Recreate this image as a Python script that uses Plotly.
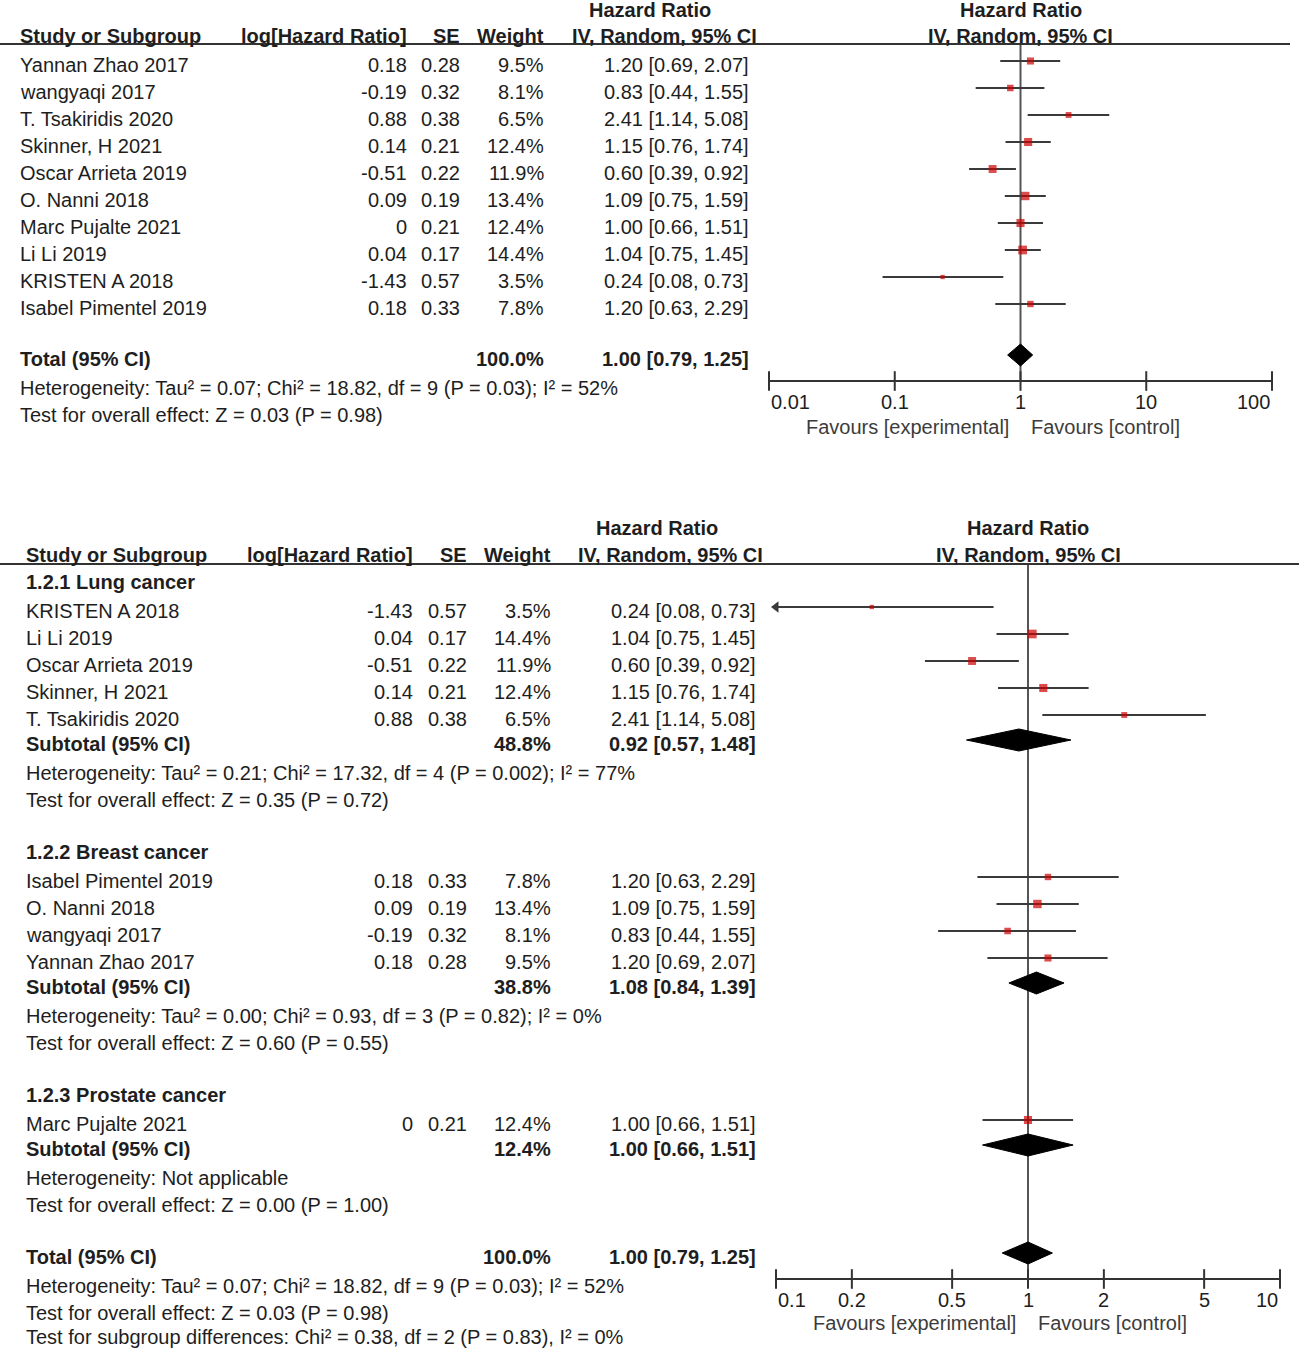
import math
import plotly.graph_objects as go

W, H = 1299, 1348

# ---------------- data ----------------
studies = ["Yannan Zhao 2017", "wangyaqi 2017", "T. Tsakiridis 2020", "Skinner, H 2021",
           "Oscar Arrieta 2019", "O. Nanni 2018", "Marc Pujalte 2021", "Li Li 2019",
           "KRISTEN A 2018", "Isabel Pimentel 2019"]
log_hr = [0.18, -0.19, 0.88, 0.14, -0.51, 0.09, 0, 0.04, -1.43, 0.18]
se = [0.28, 0.32, 0.38, 0.21, 0.22, 0.19, 0.21, 0.17, 0.57, 0.33]
weight = [9.5, 8.1, 6.5, 12.4, 11.9, 13.4, 12.4, 14.4, 3.5, 7.8]
hr = [1.20, 0.83, 2.41, 1.15, 0.60, 1.09, 1.00, 1.04, 0.24, 1.20]
ci_lo = [0.69, 0.44, 1.14, 0.76, 0.39, 0.75, 0.66, 0.75, 0.08, 0.63]
ci_hi = [2.07, 1.55, 5.08, 1.74, 0.92, 1.59, 1.51, 1.45, 0.73, 2.29]

total_weight = 100.0
total_hr, total_lo, total_hi = 1.00, 0.79, 1.25
total_het = "Heterogeneity: Tau² = 0.07; Chi² = 18.82, df = 9 (P = 0.03); I² = 52%"
total_test = "Test for overall effect: Z = 0.03 (P = 0.98)"
subgroup_test = "Test for subgroup differences: Chi² = 0.38, df = 2 (P = 0.83), I² = 0%"

group_names = ["1.2.1 Lung cancer", "1.2.2 Breast cancer", "1.2.3 Prostate cancer"]
group_members = [
    ["KRISTEN A 2018", "Li Li 2019", "Oscar Arrieta 2019", "Skinner, H 2021", "T. Tsakiridis 2020"],
    ["Isabel Pimentel 2019", "O. Nanni 2018", "wangyaqi 2017", "Yannan Zhao 2017"],
    ["Marc Pujalte 2021"],
]
group_weight = [48.8, 38.8, 12.4]
group_hr = [0.92, 1.08, 1.00]
group_lo = [0.57, 0.84, 0.66]
group_hi = [1.48, 1.39, 1.51]
group_het = [
    "Heterogeneity: Tau² = 0.21; Chi² = 17.32, df = 4 (P = 0.002); I² = 77%",
    "Heterogeneity: Tau² = 0.00; Chi² = 0.93, df = 3 (P = 0.82); I² = 0%",
    "Heterogeneity: Not applicable",
]
group_test = [
    "Test for overall effect: Z = 0.35 (P = 0.72)",
    "Test for overall effect: Z = 0.60 (P = 0.55)",
    "Test for overall effect: Z = 0.00 (P = 1.00)",
]

top_ticks = [0.01, 0.1, 1, 10, 100]
bot_ticks = [0.1, 0.2, 0.5, 1, 2, 5, 10]

# ---------------- style / layout constants ----------------
FONT = "Liberation Sans, Arial, sans-serif"
FS = 20
TXT = "#1e1e1e"
LINE = "#3a3a3a"
RED = "#cc0000"
MARK_DY = -4      # marks sit slightly above text centre
DIA_H = 11

fig = go.Figure()
annotations = []


def ann(text, x, y, anchor="left", bold=False, xref="paper", color=TXT, xshift=0):
    if bold:
        text = "<b>" + text + "</b>"
    annotations.append(dict(
        text=text, x=(x / W if xref == "paper" else x), y=y, xref=xref, yref="y",
        xanchor=anchor, yanchor="middle", showarrow=False, xshift=xshift,
        font=dict(family=FONT, size=FS, color=color)))


def fmt_ci(h, lo, hi):
    return f"{h:.2f} [{lo:.2f}, {hi:.2f}]"


def panel(cfg, rows, axis, xmin, xmax, ticks):
    cx = cfg
    ci_x, ci_y = [], []
    sq_x, sq_y, sq_s = [], [], []
    ar_x, ar_y = [], []
    dia_x, dia_y = [], []
    for r in rows:
        y = r["y"]
        if r["kind"] == "study":
            i = r["i"]
            ann(studies[i], cx["name"], y)
            ann(f"{log_hr[i]:g}", cx["loghr"], y, "right")
            ann(f"{se[i]:.2f}", cx["se"], y, "right")
            ann(f"{weight[i]:.1f}%", cx["wt"], y, "right")
            ann(fmt_ci(hr[i], ci_lo[i], ci_hi[i]), cx["ci"], y, "right")
            lo = max(ci_lo[i], xmin)
            hi = min(ci_hi[i], xmax)
            ci_x += [lo, hi, None]
            ci_y += [y + MARK_DY, y + MARK_DY, None]
            sq_x.append(hr[i]); sq_y.append(y + MARK_DY); sq_s.append(2.3 * math.sqrt(weight[i]))
            if ci_lo[i] < xmin:
                ar_x.append(xmin); ar_y.append(y + MARK_DY)
        elif r["kind"] == "pooled":
            ann(r["label"], cx["name"], y, bold=True)
            ann(f"{r['w']:.1f}%", cx["wt"], y, "right", bold=True)
            ann(fmt_ci(r["hr"], r["lo"], r["hi"]), cx["ci"], y, "right", bold=True)
            yc = y + MARK_DY
            dia_x += [r["lo"], r["hr"], r["hi"], r["hr"], r["lo"], None]
            dia_y += [yc, yc - DIA_H, yc, yc + DIA_H, yc, None]
        elif r["kind"] == "text":
            ann(r["label"], cx["name"], y, bold=r.get("bold", False))
    # null line
    fig.add_trace(go.Scatter(x=[1, 1], y=[cfg["rule"], cfg["axis"]], xaxis=axis, yaxis="y",
                             mode="lines", line=dict(color="#555555", width=2),
                             hoverinfo="skip", showlegend=False))
    fig.add_trace(go.Scatter(x=ci_x, y=ci_y, xaxis=axis, yaxis="y", mode="lines",
                             line=dict(color=LINE, width=2), hoverinfo="skip", showlegend=False))
    if ar_x:
        fig.add_trace(go.Scatter(x=ar_x, y=ar_y, xaxis=axis, yaxis="y", mode="markers",
                                 marker=dict(symbol="triangle-left", size=10, color=LINE),
                                 cliponaxis=False, hoverinfo="skip", showlegend=False))
    fig.add_trace(go.Scatter(x=sq_x, y=sq_y, xaxis=axis, yaxis="y", mode="markers",
                             marker=dict(symbol="square", size=sq_s, color=RED, line=dict(width=0)),
                             cliponaxis=False, hoverinfo="skip", showlegend=False))
    fig.add_trace(go.Scatter(x=dia_x, y=dia_y, xaxis=axis, yaxis="y", mode="lines",
                             fill="toself", fillcolor="black", line=dict(color="black", width=1),
                             hoverinfo="skip", showlegend=False))
    # tick marks crossing the axis line
    fig.add_trace(go.Scatter(x=ticks, y=[cfg["axis"]] * len(ticks), xaxis=axis, yaxis="y",
                             mode="markers", cliponaxis=False,
                             marker=dict(symbol="line-ns", size=14,
                                         line=dict(color="#333333", width=2)),
                             hoverinfo="skip", showlegend=False))
    # headers
    ann("Study or Subgroup", cx["name"], cfg["h2"], bold=True)
    ann("log[Hazard Ratio]", cx["loghr"], cfg["h2"], "right", bold=True)
    ann("SE", cx["se"], cfg["h2"], "right", bold=True)
    ann("Weight", cx["wt"], cfg["h2"], "right", bold=True)
    ann("Hazard Ratio", cx["hr_head"], cfg["h1"], "center", bold=True)
    ann("IV, Random, 95% CI", cx["ci_head"], cfg["h2"], "center", bold=True)
    ann("Hazard Ratio", 0, cfg["h1"], "center", bold=True, xref=axis)
    ann("IV, Random, 95% CI", 0, cfg["h2"], "center", bold=True, xref=axis)
    for k, v in enumerate(ticks):
        anchor = "left" if k == 0 else ("right" if k == len(ticks) - 1 else "center")
        ann(f"{v:g}", math.log10(v), cfg["ticklab"], anchor, xref=axis)
    ann("Favours [experimental]", 0, cfg["fav"], "right", xref=axis, color="#3c3c3c", xshift=-10)
    ann("Favours [control]", 0, cfg["fav"], "left", xref=axis, color="#3c3c3c", xshift=8)


# ---------------- top panel ----------------
idx = {s: i for i, s in enumerate(studies)}
top_cfg = dict(name=18, loghr=409, se=462, wt=546, ci=751, hr_head=650, ci_head=664,
               h1=10, h2=36, rule=44, axis=381, ticklab=402, fav=427)
top_rows = [dict(kind="study", i=i, y=65 + 27 * i) for i in range(len(studies))]
top_rows.append(dict(kind="pooled", label="Total (95% CI)", w=total_weight, hr=total_hr,
                     lo=total_lo, hi=total_hi, y=359))
top_rows.append(dict(kind="text", label=total_het, y=388))
top_rows.append(dict(kind="text", label=total_test, y=415))
panel(top_cfg, top_rows, "x", 0.01, 100, top_ticks)

# ---------------- bottom panel ----------------
bot_cfg = dict(name=24, loghr=415, se=469, wt=553, ci=758, hr_head=657, ci_head=670,
               h1=528, h2=555, rule=564, axis=1279, ticklab=1300, fav=1323)
bot_rows = []
y = 582
for g, name in enumerate(group_names):
    bot_rows.append(dict(kind="text", label=name, bold=True, y=y))
    y += 29
    for s in group_members[g]:
        bot_rows.append(dict(kind="study", i=idx[s], y=y))
        y += 27
    y -= 2
    bot_rows.append(dict(kind="pooled", label="Subtotal (95% CI)", w=group_weight[g], hr=group_hr[g],
                         lo=group_lo[g], hi=group_hi[g], y=y))
    y += 29
    bot_rows.append(dict(kind="text", label=group_het[g], y=y))
    y += 27
    bot_rows.append(dict(kind="text", label=group_test[g], y=y))
    y += 52
bot_rows.append(dict(kind="pooled", label="Total (95% CI)", w=total_weight, hr=total_hr,
                     lo=total_lo, hi=total_hi, y=y))
bot_rows.append(dict(kind="text", label=total_het, y=y + 29))
bot_rows.append(dict(kind="text", label=total_test, y=y + 56))
bot_rows.append(dict(kind="text", label=subgroup_test, y=y + 80))
panel(bot_cfg, bot_rows, "x2", 0.1, 10, bot_ticks)

axis_common = dict(type="log", showline=True, linecolor="#333333", linewidth=2,
                   ticks="", showticklabels=False,
                   showgrid=False, zeroline=False, fixedrange=True, anchor="free")

fig.update_layout(
    width=W, height=H, margin=dict(l=0, r=0, t=0, b=0),
    paper_bgcolor="white", plot_bgcolor="rgba(0,0,0,0)", showlegend=False,
    xaxis=dict(**axis_common, range=[-2, 2], domain=[769 / W, 1272 / W],
               position=1 - top_cfg["axis"] / H),
    xaxis2=dict(**axis_common, range=[-1, 1], domain=[776 / W, 1280 / W],
                position=1 - bot_cfg["axis"] / H),
    yaxis=dict(range=[H, 0], domain=[0, 1], visible=False, fixedrange=True),
    annotations=annotations,
    shapes=[
        dict(type="line", xref="paper", yref="y", x0=0, x1=1290 / W, y0=top_cfg["rule"],
             y1=top_cfg["rule"], line=dict(color="#333333", width=2)),
        dict(type="line", xref="paper", yref="y", x0=0, x1=1, y0=bot_cfg["rule"],
             y1=bot_cfg["rule"], line=dict(color="#333333", width=2)),
    ],
)

fig.write_html("out.html", config={"displayModeBar": False},
               post_script="document.body.style.margin='0';document.body.style.overflow='hidden';")
